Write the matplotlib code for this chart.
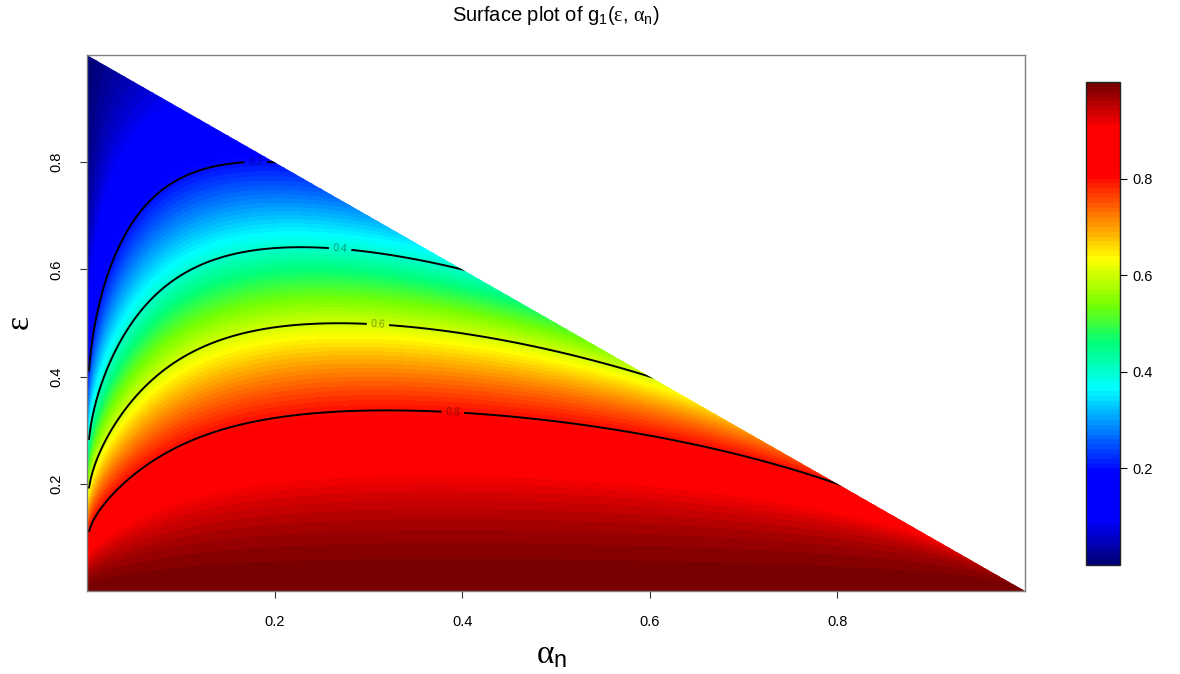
import numpy as np
import matplotlib
matplotlib.use('Agg')
import matplotlib.pyplot as plt
from matplotlib.colors import LinearSegmentedColormap
from matplotlib.patches import Polygon

# matlab-like colour ramp: (position, colour) stops
ramp_stops = [(0.0, "#000078"), (0.09, "#0000FF"), (0.19, "#0000FF"),
              (0.365, "#00FFFF"), (0.46, "#00FF78"), (0.54, "#78FF00"),
              (0.635, "#FFFF00"), (0.81, "#FF0000"), (0.91, "#FF0000"),
              (1.0, "#780000")]
n_fill = 100
line_levels = [0.2, 0.4, 0.6, 0.8]
tick_values = [0.2, 0.4, 0.6, 0.8]
tick_labels = ["0.2", "0.4", "0.6", "0.8"]
title_text = r"Surface plot of g$_1$($\varepsilon$, $\alpha_\mathrm{n}$)"

plt.rcParams['font.family'] = ['Liberation Sans', 'DejaVu Sans']
plt.rcParams['mathtext.fontset'] = 'custom'
plt.rcParams['mathtext.rm'] = 'Liberation Sans'
plt.rcParams['mathtext.it'] = 'Liberation Serif'
plt.rcParams['mathtext.sf'] = 'Liberation Sans'


def g1(eps, alpha):
    """g1 on the simplex eps + alpha <= 1 (equals alpha on the hypotenuse)."""
    r = eps / (1.0 - alpha)
    k0 = 2.45 - 0.95 * np.exp(-alpha / 0.09)
    s = 1.0 - np.exp(-alpha / 0.1)
    k = k0 + s * (np.minimum(r, 1.5) - 0.6)
    with np.errstate(over='ignore', under='ignore', invalid='ignore'):
        return alpha ** (r ** k)


def surface_grid(n=500):
    alpha = np.linspace(0.002, 0.999, n)
    eps = np.linspace(0.0, 1.0, n)
    A, E = np.meshgrid(alpha, eps)
    return A, E, g1(E, A)


def plot_surface():
    cmap = LinearSegmentedColormap.from_list('matlablike', ramp_stops, N=n_fill)
    levels = np.linspace(0.0, 1.0, n_fill + 1)

    fig = plt.figure(figsize=(11.8, 6.74), dpi=100)
    ax = fig.add_axes([0.0737, 0.1231, 0.7949, 0.7953])
    cax = fig.add_axes([0.9203, 0.1617, 0.0288, 0.7166])

    A, E, Z = surface_grid()
    cf = ax.contourf(A, E, Z, levels=levels, cmap=cmap, vmin=0, vmax=1)
    cs = ax.contour(A, E, Z, levels=line_levels, colors='black',
                    linewidths=1.4)

    # only the triangle eps + alpha <= 1 is defined
    tri = Polygon([(0, 0), (1, 0), (0, 1)], closed=True,
                  transform=ax.transData, facecolor='none', edgecolor='none')
    ax.add_patch(tri)
    cf.set_clip_path(tri)
    cs.set_clip_path(tri)

    labels = ax.clabel(cs, fmt='%.1f', fontsize=7.5, inline=True,
                       inline_spacing=4,
                       manual=[(0.18, 0.80), (0.27, 0.64),
                               (0.31, 0.49), (0.39, 0.33)])
    for t in labels:
        t.set_color('black')
        t.set_alpha(0.4)

    ax.set_xlim(0, 1)
    ax.set_ylim(0, 1)
    for sp in ax.spines.values():
        sp.set_color('#7f7f7f')
        sp.set_linewidth(1.0)
    ax.set_xticks(tick_values)
    ax.set_xticklabels(tick_labels)
    ax.set_yticks(tick_values)
    ax.set_yticklabels(tick_labels, rotation=90, va='center')
    ax.tick_params(axis='x', length=5, width=0.8, color='#333333',
                   labelsize=10.5, pad=12)
    ax.tick_params(axis='y', length=5, width=0.8, color='#333333',
                   labelsize=10.5, pad=12)

    ax.set_xlabel(r'$\alpha_\mathrm{n}$', fontsize=24)
    ax.xaxis.set_label_coords(0.495, -0.09)
    ax.set_ylabel(r'$\varepsilon$', fontsize=24)
    ax.yaxis.set_label_coords(-0.054, 0.5)

    fig.text(0.4712, 0.977, title_text, ha='center', va='center',
             fontsize=14.5)

    cb = fig.colorbar(cf, cax=cax, ticks=tick_values)
    cb.ax.set_yticklabels(tick_labels)
    cb.ax.tick_params(length=5, width=0.8, labelsize=10.5, pad=4)
    cb.outline.set_edgecolor('#222222')
    cb.outline.set_linewidth(1.0)

    fig.savefig('out.png', dpi=100)


if __name__ == '__main__':
    plot_surface()
